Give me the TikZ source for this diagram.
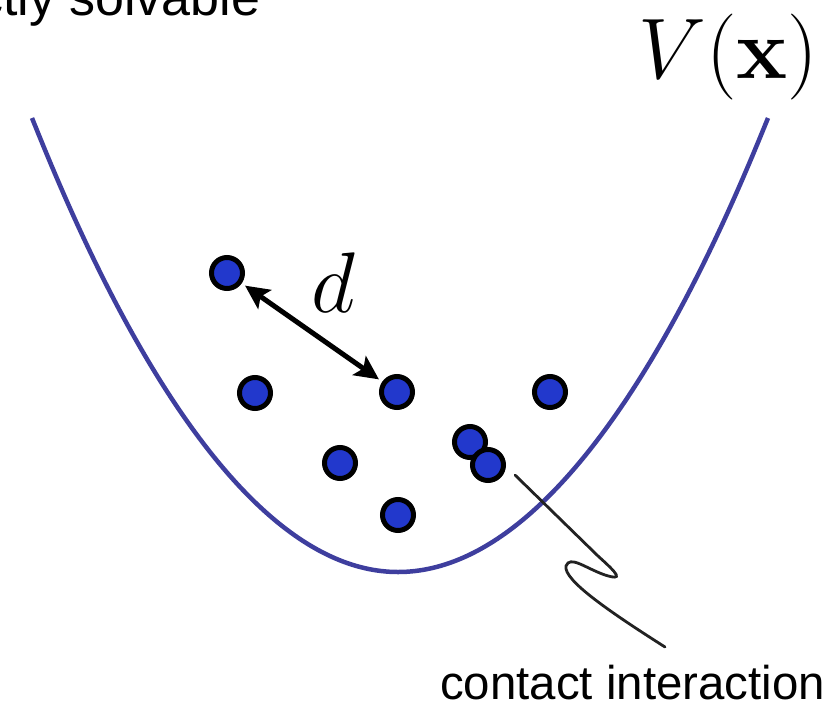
\RequirePackage{fix-cm}
\documentclass[tikz,border=0pt]{standalone}
\usepackage[no-math]{fontspec}
\setmainfont{Liberation Sans}
\usetikzlibrary{arrows.meta}
\definecolor{wellblue}{RGB}{62,62,158}
\definecolor{dotblue}{RGB}{34,56,204}
\definecolor{wiggle}{RGB}{34,34,34}
\tikzset{
  particle/.style={circle, draw=black, fill=dotblue, line width=5pt, minimum size=31pt, inner sep=0pt},
  well/.style={draw=wellblue, line width=4.5pt},
  distarrow/.style={draw=black, line width=5pt, {Stealth[length=24pt,width=23pt,inset=5pt]}-{Stealth[length=24pt,width=23pt,inset=5pt]}, shorten <=4pt, shorten >=4pt},
  contactline/.style={draw=wiggle, line width=2.8pt, line cap=round},
  label/.style={inner sep=0pt, anchor=base west}
}
\begin{document}
\begin{tikzpicture}[x=1pt, y=-1pt]
\useasboundingbox (0,0) rectangle (838,705);
\clip (0,0) rectangle (838,705);
% potential well (parabola)
\draw[well] (32,118) parabola bend (398,572) (768,118);
% particles
\node[particle] (p1) at (227,273) {};
\node[particle] (p2) at (255,393) {};
\node[particle] (p3) at (397,392) {};
\node[particle] (p4) at (550,392) {};
\node[particle] (p5) at (340,463) {};
\node[particle] (p6) at (470,442) {};
\node[particle] (p7) at (488,465) {};
\node[particle] (p8) at (398,515) {};
% distance arrow
\draw[distarrow] (p1) -- (p3);
\node[inner sep=0pt, anchor=base] (dlabel) at (333,312) {\fontsize{86}{90}\selectfont$d$};
% labels
\node[label] (vlabel) at (638,78) {\fontsize{86}{90}\selectfont$V(\mathbf{x})$};
\node[label] (title) at (-107,15) {\fontsize{52}{56}\selectfont exactly solvable};
\node[label] (contact) at (440,699) {\fontsize{47.4}{50}\selectfont contact interaction};
% wiggly pointer
\coordinate (cstart) at (515,475);
\coordinate (cend) at (665,647);
\draw[contactline] (cstart) -- (598,556) .. controls (618,574) and (624,581) .. (605,575)
  .. controls (585,568) and (570,555) .. (566,566)
  .. controls (563,580) and (610,612) .. (cend);
\end{tikzpicture}
\end{document}
